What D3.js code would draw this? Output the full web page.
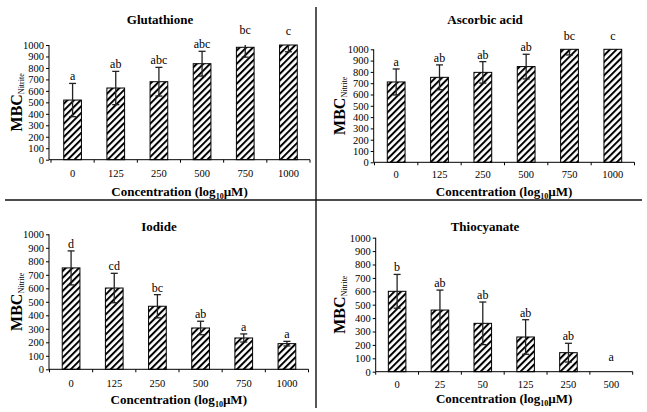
<!DOCTYPE html>
<html>
<head>
<meta charset="utf-8">
<script src="https://cdn.jsdelivr.net/npm/d3@7"></script>
<style>
html,body{margin:0;padding:0;background:#fff;}
svg{display:block;}
text{font-family:"Liberation Serif","Times New Roman",serif;fill:#000;}
</style>
</head>
<body>
<svg id="chart" width="647" height="412"></svg>
<script>
// ---- data ----
const concA = ["0", "125", "250", "500", "750", "1000"];
const concT = ["0", "25", "50", "125", "250", "500"];
const yTicks = [0, 100, 200, 300, 400, 500, 600, 700, 800, 900, 1000];

const glutathione = [520, 625, 680, 837, 980, 1000];
const glutathioneErr = [145, 145, 125, 108, 86, 59];
const glutathioneSig = ["a", "ab", "abc", "abc", "bc", "c"];

const ascorbic = [711, 752, 796, 847, 1000, 1000];
const ascorbicErr = [115, 110, 95, 109, 50, 0];
const ascorbicSig = ["a", "ab", "ab", "ab", "bc", "c"];

const iodide = [751, 602, 467, 306, 232, 190];
const iodideErr = [126, 109, 86, 50, 30, 17];
const iodideSig = ["d", "cd", "bc", "ab", "a", "a"];

const thiocyanate = [600, 460, 361, 259, 142, 0];
const thiocyanateErr = [126, 149, 159, 129, 70, 0];
const thiocyanateSig = ["b", "ab", "ab", "ab", "ab", "a"];

const titles = ["Glutathione", "Ascorbic acid", "Iodide", "Thiocyanate"];

// ---- layout ----
const panels = [
  {title: titles[0], cats: concA, vals: glutathione, errs: glutathioneErr, sig: glutathioneSig,
   ax: 49, x0: 51, x1: 310, yTop: 45, yBot: 159.7, titleX: 160, titleY: 24, tickY: 177, axTitleY: 196, yLabX: 17},
  {title: titles[1], cats: concA, vals: ascorbic, errs: ascorbicErr, sig: ascorbicSig,
   ax: 373.7, x0: 374.5, x1: 634.5, yTop: 49.3, yBot: 162.3, titleX: 485, titleY: 24, tickY: 178, axTitleY: 196, yLabX: 340},
  {title: titles[2], cats: concA, vals: iodide, errs: iodideErr, sig: iodideSig,
   ax: 49, x0: 49.5, x1: 308.5, yTop: 234.3, yBot: 369.3, titleX: 159, titleY: 231, tickY: 386.5, axTitleY: 404, yLabX: 17},
  {title: titles[3], cats: concT, vals: thiocyanate, errs: thiocyanateErr, sig: thiocyanateSig,
   ax: 375.7, x0: 375.7, x1: 632.7, yTop: 237.7, yBot: 371.7, titleX: 485, titleY: 231, tickY: 388, axTitleY: 403, yLabX: 340}
];

const svg = d3.select("#chart");
svg.append("rect").attr("width", 647).attr("height", 412).attr("fill", "#fff");

// hatch pattern
const defs = svg.append("defs");
const pat = defs.append("pattern")
  .attr("id", "hatch").attr("patternUnits", "userSpaceOnUse")
  .attr("width", 4.7).attr("height", 4.7)
  .attr("patternTransform", "rotate(45)");
pat.append("rect").attr("width", 4.7).attr("height", 4.7).attr("fill", "#fff");
pat.append("line").attr("x1", 1).attr("y1", 0).attr("x2", 1).attr("y2", 4.7)
  .attr("stroke", "#000").attr("stroke-width", 2);

// dividers
svg.append("line").attr("x1", 5).attr("x2", 642).attr("y1", 200).attr("y2", 200)
  .attr("stroke", "#111").attr("stroke-width", 1.6);
svg.append("line").attr("x1", 316).attr("x2", 316).attr("y1", 7).attr("y2", 408)
  .attr("stroke", "#111").attr("stroke-width", 1.4);

panels.forEach(p => {
  const g = svg.append("g");
  const x = d3.scaleBand().domain(p.cats).range([p.x0, p.x1]).paddingInner(0.59).paddingOuter(0.295);
  const y = d3.scaleLinear().domain([0, 1000]).range([p.yBot, p.yTop]);
  const data = p.cats.map((c, i) => ({c, v: p.vals[i], e: p.errs[i], s: p.sig[i]}));

  // title
  g.append("text").attr("x", p.titleX).attr("y", p.titleY).attr("text-anchor", "middle")
    .attr("font-size", 13).attr("font-weight", "bold").text(p.title);

  // bars
  g.selectAll("rect.bar").data(data).enter().append("rect")
    .attr("class", "bar")
    .attr("x", d => x(d.c)).attr("width", x.bandwidth())
    .attr("y", d => y(d.v)).attr("height", d => y(0) - y(d.v))
    .attr("fill", "url(#hatch)").attr("stroke", "#000").attr("stroke-width", 1)
    .style("display", d => d.v > 0 ? null : "none");

  // error bars
  const eb = g.selectAll("g.err").data(data.filter(d => d.e > 0)).enter().append("g")
    .attr("transform", d => `translate(${x(d.c) + x.bandwidth() / 2},0)`);
  eb.append("line").attr("x1", 0).attr("x2", 0)
    .attr("y1", d => y(Math.min(1000, d.v + d.e))).attr("y2", d => y(d.v - d.e))
    .attr("stroke", "#222").attr("stroke-width", 1.3);
  eb.filter(d => d.v + d.e <= 1000).append("line").attr("x1", -3.5).attr("x2", 3.5)
    .attr("y1", d => y(d.v + d.e)).attr("y2", d => y(d.v + d.e))
    .attr("stroke", "#222").attr("stroke-width", 1.3);
  eb.append("line").attr("x1", -3.5).attr("x2", 3.5)
    .attr("y1", d => y(d.v - d.e)).attr("y2", d => y(d.v - d.e))
    .attr("stroke", "#222").attr("stroke-width", 1.3);

  // significance letters
  g.selectAll("text.sig").data(data).enter().append("text")
    .attr("class", "sig")
    .attr("x", d => x(d.c) + x.bandwidth() / 2)
    .attr("y", d => y(Math.max(d.v + d.e, d.v >= 1000 ? 1055 : 60)) - 3)
    .attr("text-anchor", "middle").attr("font-size", 12).text(d => d.s);

  // y axis
  const yAxis = d3.axisLeft(y).tickValues(yTicks).tickSize(3).tickPadding(2).tickFormat(d3.format("d"));
  const ya = g.append("g").attr("transform", `translate(${p.ax},0)`).call(yAxis);
  ya.select(".domain").attr("stroke", "#000").attr("d", `M0,${y(0)}V${y(1000)}`);
  ya.selectAll("text").attr("font-size", 10.5).attr("font-family", "Liberation Serif, serif");

  // x axis line with boundary ticks
  g.append("line").attr("x1", p.ax).attr("x2", p.x1).attr("y1", y(0)).attr("y2", y(0))
    .attr("stroke", "#000").attr("stroke-width", 1);
  const step = x.step();
  const bounds = p.cats.map((c, i) => x(c) - (step - x.bandwidth()) / 2).concat([p.x1]);
  g.selectAll("line.xt").data(bounds).enter().append("line")
    .attr("x1", d => d).attr("x2", d => d).attr("y1", y(0)).attr("y2", y(0) + 3)
    .attr("stroke", "#000");
  g.selectAll("text.xl").data(p.cats).enter().append("text")
    .attr("x", d => x(d) + x.bandwidth() / 2).attr("y", p.tickY)
    .attr("text-anchor", "middle").attr("font-size", 10.5).text(d => d);

  // x axis title
  const xt = g.append("text").attr("x", (p.ax + p.x1) / 2).attr("y", p.axTitleY)
    .attr("text-anchor", "middle").attr("font-size", 13).attr("font-weight", "bold");
  xt.append("tspan").text("Concentration (log");
  xt.append("tspan").attr("font-size", 8).attr("dy", 3).text("10");
  xt.append("tspan").attr("dy", -3).text("µM)");

  // y axis title
  const cy = (y(0) + y(1000)) / 2;
  const yt = g.append("text").attr("transform", `translate(${p.yLabX + 5},${cy}) rotate(-90)`)
    .attr("text-anchor", "middle").attr("font-size", 16).attr("font-weight", "bold");
  yt.append("tspan").text("MBC");
  yt.append("tspan").attr("font-size", 8).attr("font-weight", "normal").attr("dy", 2).text("Nitrite");
});
</script>
</body>
</html>
